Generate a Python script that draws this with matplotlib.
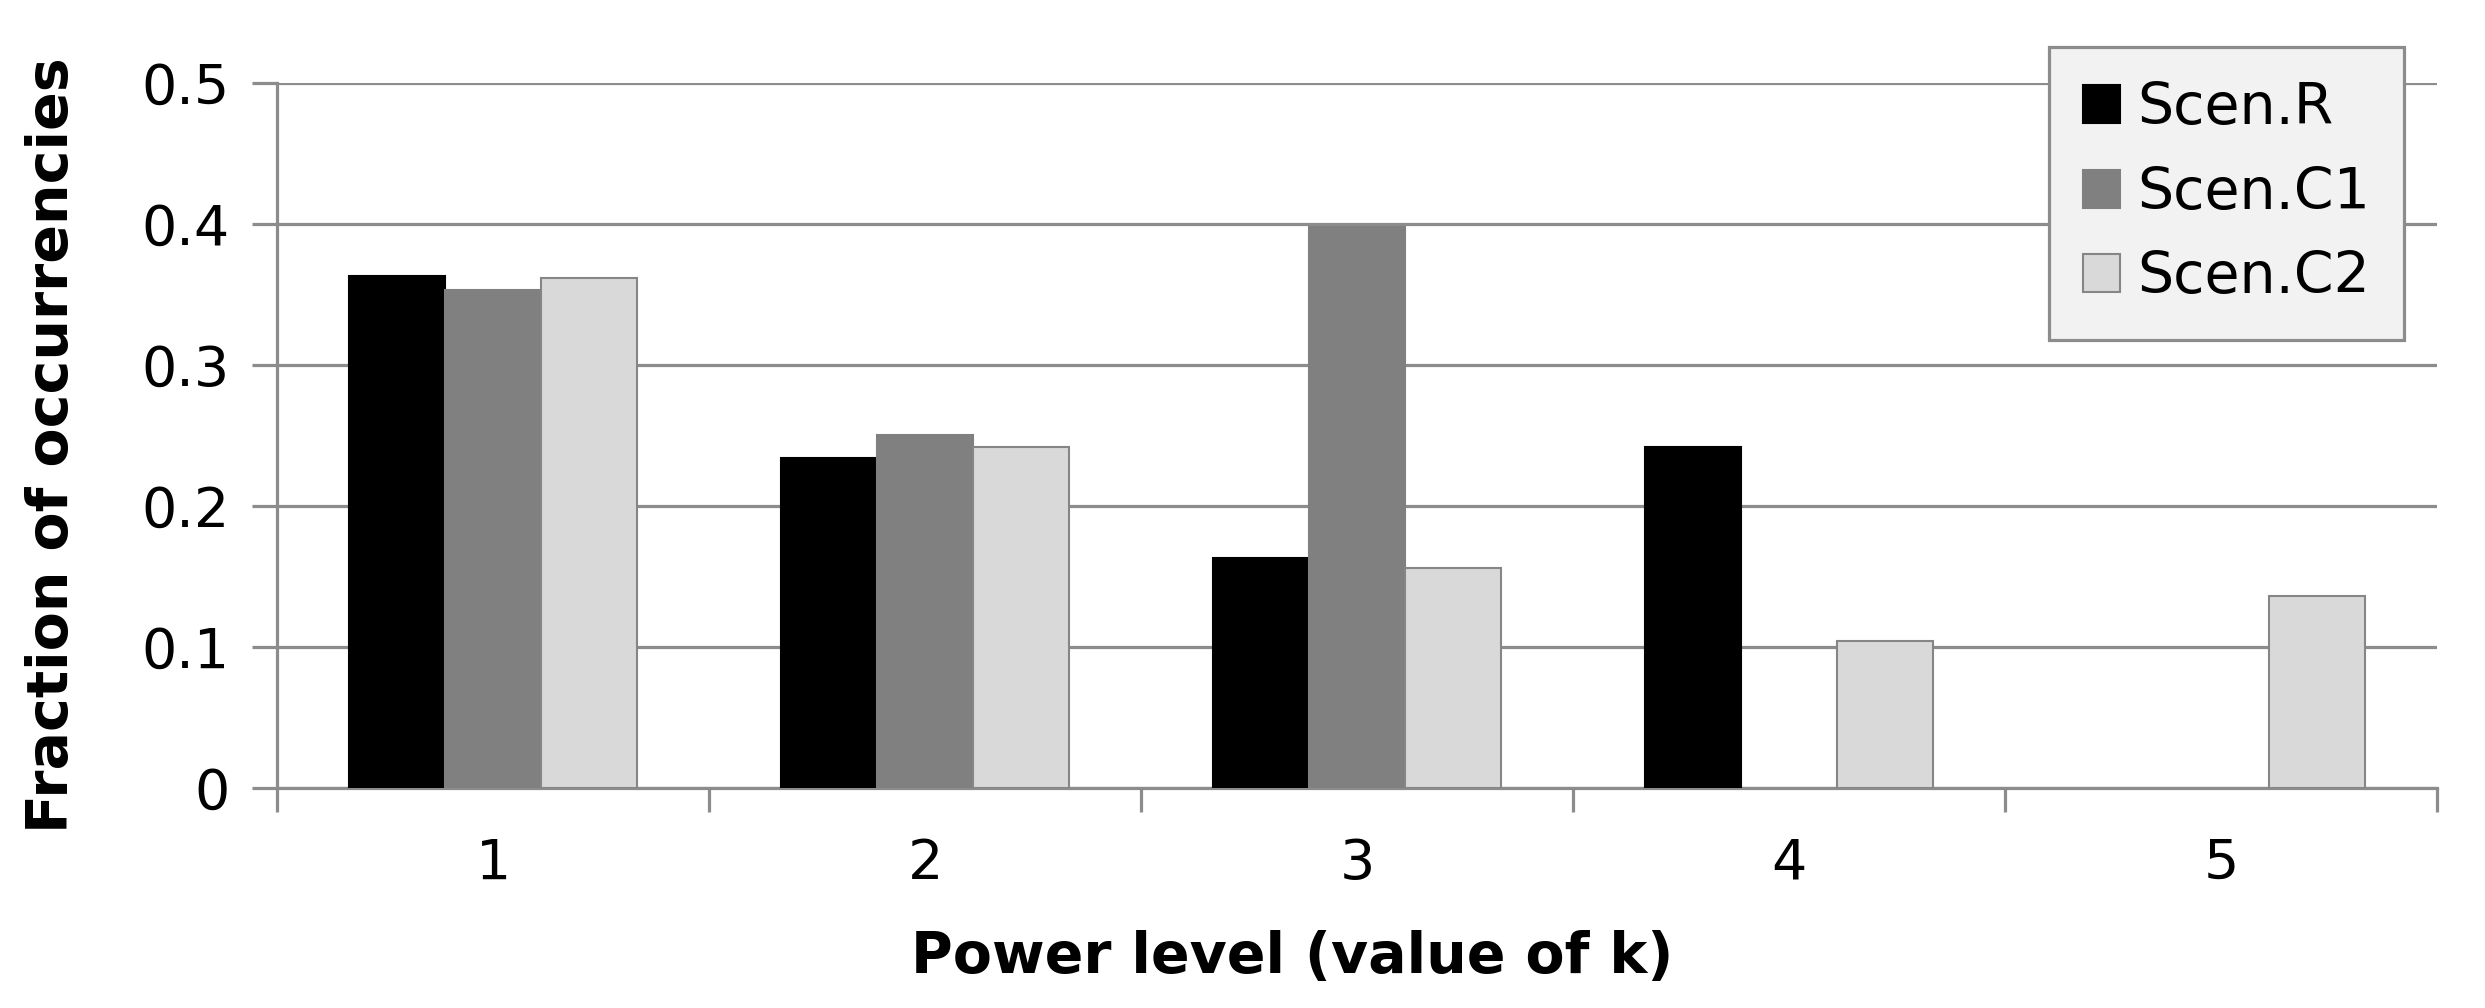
import matplotlib
matplotlib.use("Agg")
import matplotlib.pyplot as plt
import numpy as np

plt.rcParams["font.family"] = "DejaVu Sans"

levels = ["1", "2", "3", "4", "5"]
scen_r = [0.363, 0.234, 0.163, 0.242, 0.0]
scen_c1 = [0.353, 0.250, 0.398, 0.0, 0.0]
scen_c2 = [0.362, 0.242, 0.156, 0.104, 0.136]

series = [
    ("Scen.R", scen_r, "#000000", "#000000"),
    ("Scen.C1", scen_c1, "#808080", "#808080"),
    ("Scen.C2", scen_c2, "#d9d9d9", "#868686"),
]

GRID = "#8c8c8c"
FS = 40

fig = plt.figure(figsize=(24.85, 10.08), dpi=100)
ax = fig.add_axes([0.1115, 0.2183, 0.8692, 0.6994])

x = np.arange(1, len(levels) + 1)
width = 0.222
for i, (name, vals, fc, ec) in enumerate(series):
    bars = ax.bar(x + (i - 1) * width, vals, width, color=fc, edgecolor=ec,
                  linewidth=1.5, label=name, zorder=3)
    # empty categories show nothing in the original
    for b in bars:
        if b.get_height() == 0:
            b.set_visible(False)

ax.set_xlim(0.5, len(levels) + 0.5)
ax.set_ylim(0, 0.5)
ax.set_yticks(np.arange(0, 0.51, 0.1))
ax.set_yticklabels(["0", "0.1", "0.2", "0.3", "0.4", "0.5"])
ax.set_xticks(x)
ax.set_xticklabels(levels)
ax.set_xticks(np.arange(0.5, len(levels) + 1), minor=True)

ax.yaxis.grid(True, color=GRID, linewidth=2.3, zorder=0)
ax.set_axisbelow(True)
for side in ["top", "right"]:
    ax.spines[side].set_visible(False)
for side in ["left", "bottom"]:
    ax.spines[side].set_color(GRID)
    ax.spines[side].set_linewidth(2.3)

ax.tick_params(axis="y", direction="out", length=18, width=2.3, color=GRID,
               pad=16, labelsize=FS)
ax.tick_params(axis="x", which="major", length=0, pad=35, labelsize=FS)
ax.tick_params(axis="x", which="minor", direction="out", length=17,
               width=2.3, color=GRID)

ax.set_xlabel("Power level (value of k)", fontsize=41, fontweight="bold",
              va="center")
ax.xaxis.set_label_coords(0.470, -0.240)
ax.set_ylabel("Fraction of occurrencies", fontsize=41, fontweight="bold",
              va="center")
ax.yaxis.set_label_coords(-0.104, 0.4865)

leg = ax.legend(loc="upper right", bbox_to_anchor=(0.9674, 0.9534),
                bbox_transform=fig.transFigure, borderaxespad=0,
                fontsize=41, fancybox=False, framealpha=1,
                facecolor="#f2f2f2", edgecolor=GRID,
                handlelength=0.65, handleheight=0.65, handletextpad=0.3,
                labelspacing=0.52, borderpad=0.6)
leg.get_frame().set_linewidth(2.3)

fig.savefig("out.png", dpi=100)
